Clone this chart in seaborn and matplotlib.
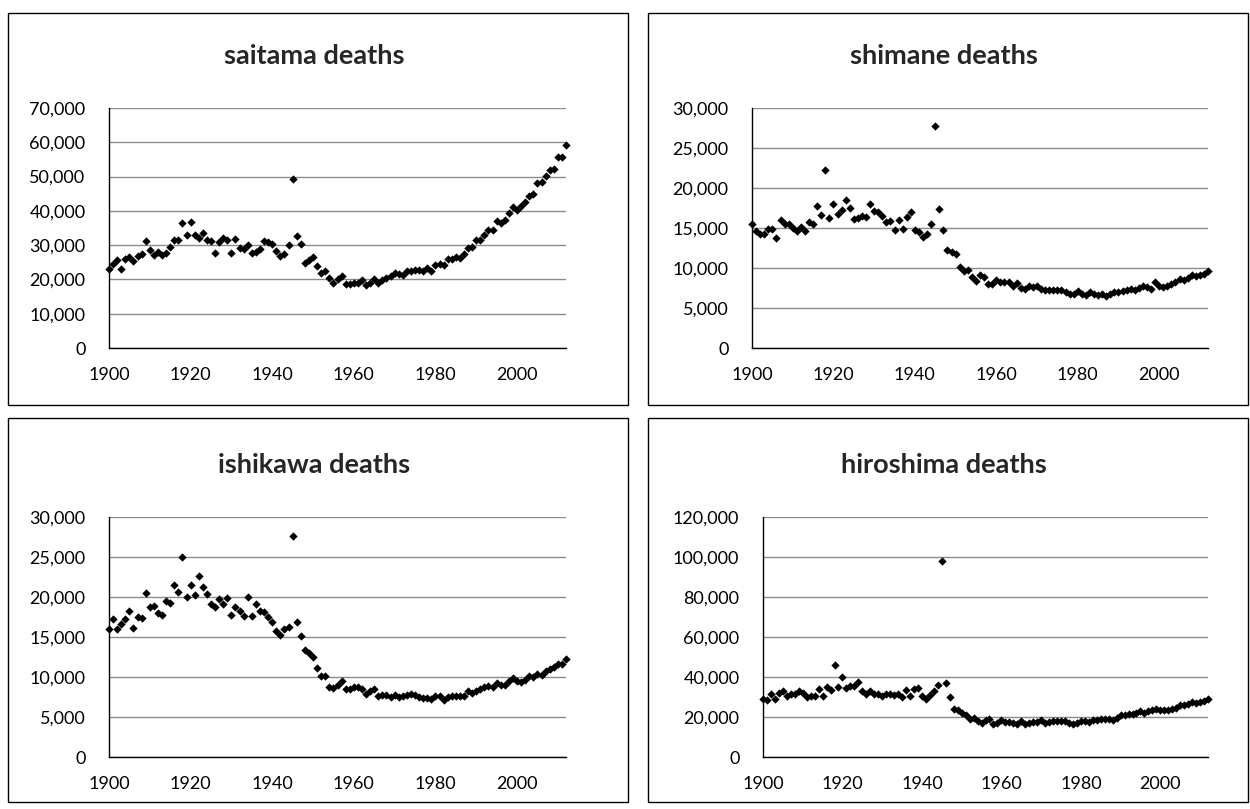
import numpy as np
import pandas as pd
import seaborn as sns
import matplotlib.pyplot as plt
from matplotlib.patches import Rectangle
from matplotlib.ticker import FuncFormatter

#%% Data
years = list(range(1900, 2013))

saitama = [23100, 24600, 25800, 23100, 25900, 26400, 25300, 26700, 27500, 31100,
           28700, 27000, 28000, 27000, 27700, 29600, 31400, 31400, 36500, 33100,
           36700, 33000, 32100, 33600, 31600, 31100, 27800, 30900, 32100, 31600,
           27800, 31900, 29200, 29000, 29900, 27800, 28000, 29000, 31200, 31000,
           30400, 28300, 26800, 27500, 30100, 49300, 32800, 30200, 24800, 25800,
           26400, 23900, 21900, 22600, 20500, 19100, 20000, 21100, 18600, 18600,
           19000, 19100, 19900, 18300, 19100, 20100, 19100, 19700, 20500, 21100,
           21900, 21700, 21400, 22600, 22500, 22800, 22700, 22600, 23200, 22600,
           24300, 24400, 24100, 25900, 26000, 26400, 26200, 27500, 29300, 29500,
           31400, 31500, 33100, 34500, 34500, 36900, 36600, 37200, 39500, 41000,
           40300, 41500, 42600, 44200, 45000, 48100, 48400, 50100, 52000, 52200,
           55600, 55600, 59300]

shimane = [15500, 14600, 14200, 14200, 14900, 14900, 13700, 16000, 15500, 15500,
           15000, 14600, 15100, 14600, 15800, 15500, 17700, 16600, 22200, 16200,
           18000, 16800, 17300, 18500, 17500, 16100, 16200, 16500, 16400, 18000,
           17100, 17000, 16500, 15700, 15900, 14800, 16000, 14900, 16400, 17000,
           14800, 14500, 13900, 14200, 15500, 27700, 17400, 14800, 12200, 12000,
           11700, 10100, 9600, 9700, 8900, 8400, 9100, 8900, 8000, 8000,
           8500, 8300, 8300, 8300, 7800, 8100, 7500, 7400, 7700, 7600,
           7800, 7400, 7200, 7200, 7200, 7200, 7200, 7000, 6800, 6800,
           7100, 6800, 6600, 7000, 6700, 6600, 6700, 6500, 6800, 7000,
           7000, 7100, 7200, 7400, 7300, 7500, 7700, 7600, 7400, 8300,
           7700, 7600, 7800, 8000, 8300, 8600, 8500, 8700, 9100, 9000,
           9100, 9200, 9600]

ishikawa = [16000, 17200, 16000, 16600, 17300, 18300, 16100, 17500, 17400, 20500,
            18700, 18900, 18000, 17800, 19500, 19200, 21500, 20600, 25000, 20000,
            21500, 20300, 22600, 21300, 20400, 19100, 18700, 19700, 19100, 19900,
            17800, 18800, 18300, 17600, 20000, 17600, 19100, 18300, 18100, 17500,
            16900, 15700, 15300, 16000, 16300, 27600, 16900, 15100, 13400, 13000,
            12500, 11100, 10100, 10100, 8800, 8600, 9000, 9500, 8500, 8500,
            8700, 8800, 8500, 7900, 8200, 8500, 7600, 7800, 7700, 7500,
            7700, 7500, 7600, 7800, 7900, 7700, 7500, 7400, 7400, 7300,
            7600, 7600, 7100, 7500, 7600, 7600, 7600, 7600, 8200, 8000,
            8200, 8500, 8700, 8900, 8800, 9200, 9000, 9000, 9500, 9900,
            9500, 9400, 9600, 10100, 10000, 10400, 10200, 10800, 11000, 11300,
            11600, 11600, 12200]

hiroshima = [29200, 28300, 31300, 29200, 32000, 33000, 30700, 31300, 31300, 32800,
             32200, 30000, 30500, 30500, 33800, 30500, 35000, 33300, 45800, 35000,
             40000, 34500, 35300, 35500, 37500, 32800, 31700, 32800, 31700, 31300,
             30300, 31300, 31300, 30800, 31700, 30000, 33700, 30500, 34200, 34700,
             30300, 29200, 30800, 32800, 35800, 98000, 37200, 30000, 23800, 23300,
             22200, 21200, 18800, 19700, 17800, 17200, 18300, 18800, 16700, 17200,
             18300, 17500, 17500, 17200, 16700, 17800, 16700, 17200, 17500, 17500,
             18300, 17200, 17500, 18000, 18000, 18000, 18000, 17200, 16700, 17200,
             18000, 18000, 17500, 18300, 18700, 18800, 19200, 19200, 18700, 19700,
             20800, 21200, 21700, 21700, 22000, 22800, 22200, 22800, 23300, 24200,
             23300, 23700, 23700, 24200, 24700, 25800, 25800, 26300, 27500, 27200,
             27300, 28000, 29200]

x_ticks = [1900, 1920, 1940, 1960, 1980, 2000]

#%% Theming
sns.set_style("white")
plt.rcParams['font.family'] = ['Lato', 'DejaVu Sans']

W, H = 1250, 809
fig = plt.figure(figsize=(W / 100, H / 100), dpi=100)

def fx(x):
    return x / W

def fy(y):
    return 1 - y / H

# name, values, y max, y step, axes box in pixels (left, top, right, bottom), chart box
panels = [
    ("saitama", saitama, 70000, 10000, (109, 108, 566, 348), (8, 13, 628, 405)),
    ("shimane", shimane, 30000, 5000, (752, 108, 1208, 348), (648, 13, 1248, 405)),
    ("ishikawa", ishikawa, 30000, 5000, (109, 517, 566, 757), (8, 418, 628, 802)),
    ("hiroshima", hiroshima, 120000, 20000, (763, 517, 1208, 757), (648, 418, 1248, 802)),
]

for name, vals, ymax, ystep, (l, t, r, b), (bl, bt, br, bb) in panels:
    # chart border
    fig.patches.append(Rectangle((fx(bl), fy(bb)), fx(br - bl), (bb - bt) / H,
                                 transform=fig.transFigure, fill=False,
                                 edgecolor='black', linewidth=1.0))
    ax = fig.add_axes([fx(l), fy(b), fx(r - l), (b - t) / H])
    df = pd.DataFrame({"year": years, "deaths": vals})
    sns.scatterplot(data=df, x="year", y="deaths", ax=ax, marker='D',
                    color='black', s=18, linewidth=0, clip_on=False, zorder=3)
    ax.set_xlim(1900, 2012)
    ax.set_ylim(0, ymax)
    ax.set_xticks(x_ticks)
    ax.set_yticks(np.arange(0, ymax + 1, ystep))
    ax.yaxis.set_major_formatter(FuncFormatter(lambda v, p: f"{int(v):,}"))
    ax.grid(axis='y', color='#8c8c8c', linewidth=1.0)
    ax.set_axisbelow(True)
    for s in ['top', 'right']:
        ax.spines[s].set_visible(False)
    for s in ['left', 'bottom']:
        ax.spines[s].set_color('black')
        ax.spines[s].set_linewidth(1.0)
    ax.tick_params(axis='both', direction='out', length=5, width=1.0,
                   color='black', labelsize=13, labelcolor='black')
    ax.tick_params(axis='y', pad=12)
    ax.tick_params(axis='x', pad=9)
    ax.set_xlabel("")
    ax.set_ylabel("")
    # title centred on the chart box
    fig.text(fx((bl + br) / 2 - 4), fy(t - 52), f"{name} deaths",
             ha='center', va='center', fontsize=19.5, fontweight='bold')

plt.savefig('out.png', dpi=100)
